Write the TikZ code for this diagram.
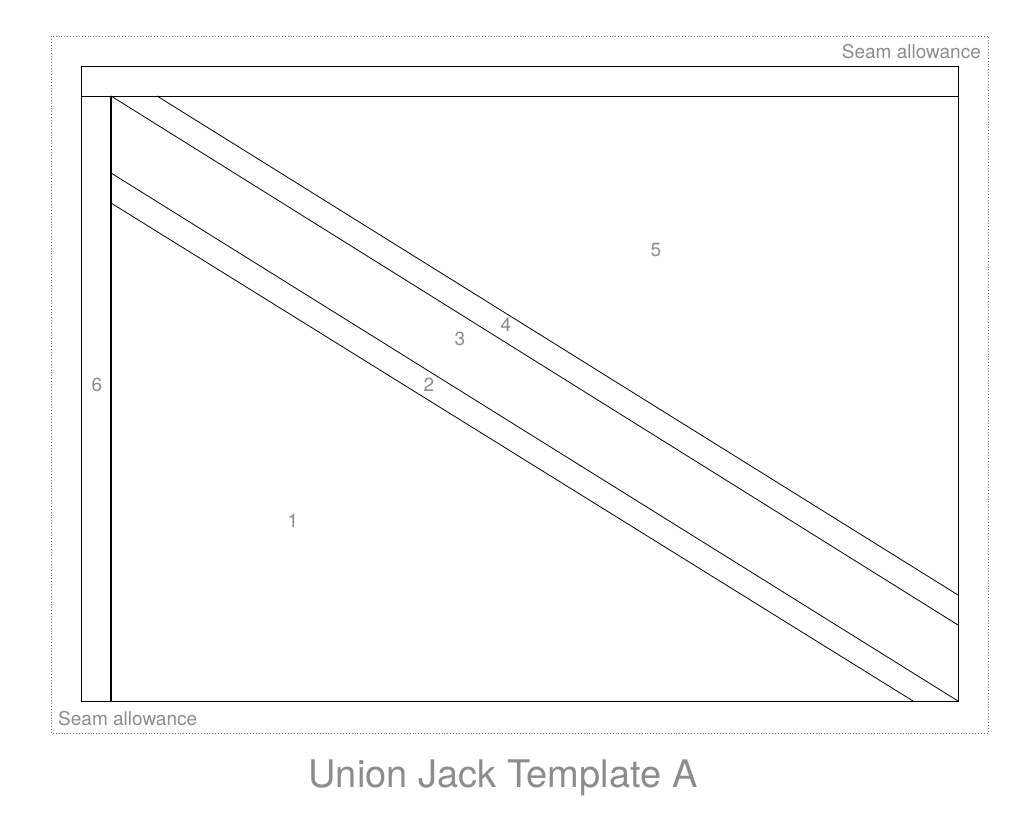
\documentclass[tikz,border=0pt]{standalone}
\usepackage{fontspec}
\setmainfont{TeX Gyre Heros}
\begin{document}
\begin{tikzpicture}[x=1pt,y=-1pt,
  lbl/.style={text=gray!90,font=\fontsize{19}{19}\selectfont,inner sep=0pt},
  seam/.style={text=gray!90,font=\fontsize{19}{19}\selectfont,inner sep=0pt},
  ln/.style={line width=0.8pt}]
\useasboundingbox (0,0) rectangle (1024,826);
\draw[dotted,gray!90!black,line width=0.9pt] (51,36) rectangle (988,733);
\draw[ln] (81,66) rectangle (958,701);
\draw[ln] (81,96) -- (958,96);
\draw[line width=1.4pt] (111,96) -- (111,701);
\draw[ln] (111,203) -- (913,701);
\draw[ln] (111,173) -- (958,701);
\draw[ln] (111,96) -- (958,625);
\draw[ln] (157,96) -- (958,595);
\node[lbl] (n1) at (293,521) {1};
\node[lbl] (n2) at (429,385) {2};
\node[lbl] (n3) at (460,339) {3};
\node[lbl] (n4) at (506,325) {4};
\node[lbl] (n5) at (656,250) {5};
\node[lbl] (n6) at (97,385) {6};
\node[seam,anchor=north east] (s1) at (981,44) {Seam allowance};
\node[seam,anchor=south west] (s2) at (58,726) {Seam allowance};
\node[text=gray!90,font=\fontsize{38}{38}\selectfont,inner sep=0pt] (t) at (503,778) {Union Jack Template A};
\end{tikzpicture}
\end{document}
